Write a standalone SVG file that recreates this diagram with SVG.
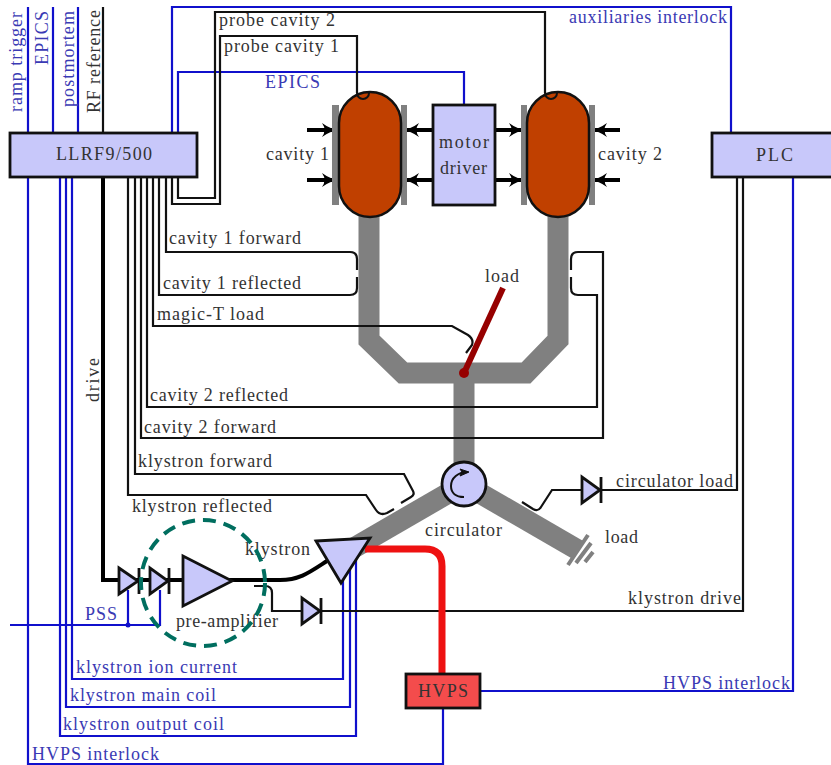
<svg xmlns="http://www.w3.org/2000/svg" width="831" height="765" viewBox="0 0 831 765">
<defs>
<marker id="head" viewBox="0 0 17 14" refX="16" refY="7" markerWidth="17" markerHeight="14" markerUnits="userSpaceOnUse" orient="auto"><path d="M0,0 Q8,6 17,7 Q8,8 0,14 Q5,7 0,0Z" fill="#000"/></marker>
</defs>
<style>
text{font-family:"Liberation Serif","Times New Roman",serif;font-size:18px;fill:#333}
.b{fill:#3a3ab4}
.bl{fill:none;stroke:#1010cc;stroke-width:2.2}
.k{fill:none;stroke:#111;stroke-width:2.2}
.box{fill:#c8c8fa;stroke:#111;stroke-width:2.8}
.wg{fill:none;stroke:#808080;stroke-width:21}
.arr{fill:none;stroke:#000;stroke-width:4;marker-end:url(#head)}
.cav{fill:#c04000;stroke:#111;stroke-width:2.5}
.plate{fill:#808080}
</style>
<rect width="831" height="765" fill="#fff"/>
<g id="waveguides">
<path class="wg" d="M369,215V340L403,373H526L558,340V215"/>
<path class="wg" d="M464,373V470"/>
<path class="wg" d="M464,484L345,553"/>
<path class="wg" d="M464,484L578,550"/>
<path d="M588,535L568,565M591,543L576,563M593,552L585,562" fill="none" stroke="#808080" stroke-width="4"/>
</g>
<g id="connectors">
<g class="conn-blue">
<path class="bl" d="M28,7V133M53,7V133M78,7V133"/>
<path class="bl" d="M172,133V7H731V133"/>
<path class="bl" d="M178,133V72H464V105"/>
<path class="bl" d="M28,177V764H443V708"/>
<path class="bl" d="M72,177V679H343V575"/>
<path class="bl" d="M66,177V707H350V565"/>
<path class="bl" d="M60,177V736H356V555"/>
<path class="bl" d="M481,691H793V177"/>
<path class="bl" d="M10,625H160V590M128,625V590"/>
<circle cx="128" cy="625" r="2.5" fill="#1010cc"/>
</g>
<g class="conn-black">
<path class="k" d="M103,7V133"/>
<path class="k" d="M178,177V198H215V12H545V93"/>
<path class="k" d="M172,177V204H220V36H357V93"/>
<path class="k" d="M166,177V252H350Q357,252 357,259V270"/>
<path class="k" d="M159,177V295H350Q357,295 357,288V277"/>
<path class="k" d="M153,177V326H452L468,335Q474,339 472,345L466,353"/>
<path class="k" d="M147,177V407H597V295H578Q571,295 571,288V277"/>
<path class="k" d="M141,177V438H603V252H578Q571,252 571,259V270"/>
<path class="k" d="M135,177V474H404L413,491Q415,495 411,497L401,503"/>
<path class="k" d="M128,177V495H366L376,510Q380,516 387,513L394,509"/>
<path class="k" d="M737,177V490H552L541,507Q538,512 533,509L522,502"/>
<path class="k" d="M743,177V611H272V593Q272,586 265,586H254"/>
<path d="M103,177V580H280C300,580 310,572 327,561" fill="none" stroke="#000" stroke-width="4"/>
</g>
<path d="M365,549H425Q442,549 442,566V674" fill="none" stroke="#ee1111" stroke-width="7"/>
<path d="M464,373L503,288" fill="none" stroke="#960000" stroke-width="6"/>
<circle cx="464" cy="373" r="5" fill="#960000"/>
<path class="arr" d="M307,130H338"/><path class="arr" d="M307,180H338"/>
<path class="arr" d="M620,130H591"/><path class="arr" d="M620,180H591"/>
<path class="arr" d="M433,130H403"/><path class="arr" d="M433,180H403"/>
<path class="arr" d="M495,130H525"/><path class="arr" d="M495,180H525"/>
</g>
<g id="llrf"><rect class="box" x="10" y="133" width="187" height="44"/><text x="56" y="160" textLength="96">LLRF9/500</text></g>
<g id="plc"><rect class="box" x="712" y="133" width="125" height="44"/><text x="756" y="161" textLength="37">PLC</text></g>
<g id="cavity1">
<rect class="plate" x="332" y="105" width="7" height="100"/><rect class="plate" x="401" y="105" width="6" height="100"/>
<rect class="cav" x="339" y="92" width="62" height="125" rx="31" ry="31"/>
<path d="M357,93A6,6 0 0 0 369,93" fill="none" stroke="#111" stroke-width="2"/>
<text x="266" y="160" textLength="63">cavity 1</text>
</g>
<g id="cavity2">
<rect class="plate" x="521" y="105" width="6" height="100"/><rect class="plate" x="589" y="105" width="6" height="100"/>
<rect class="cav" x="527" y="92" width="62" height="125" rx="31" ry="31"/>
<path d="M545,93A6,6 0 0 0 557,93" fill="none" stroke="#111" stroke-width="2"/>
<text x="598" y="160" textLength="64">cavity 2</text>
</g>
<g id="motor"><rect class="box" x="433" y="105" width="62" height="100"/><text x="439" y="148" textLength="50">motor</text><text x="440" y="174" textLength="47">driver</text></g>
<g id="circulator"><circle class="box" cx="464" cy="484" r="22"/>
<path d="M468,472C458,472 451,478 451,486C451,493 456,497 464,497" fill="none" stroke="#111" stroke-width="2"/><path d="M469,472L460,469L462,472L460,476Z" fill="#111" stroke="#111"/>
<text x="425" y="536" textLength="77">circulator</text></g>
<g id="d1"><path class="box" d="M119,568V594L138,581Z"/><path d="M139,568V594" stroke="#111" stroke-width="2.8"/></g>
<g id="d2"><path class="box" d="M150,568V594L168,581Z"/><path d="M169,568V594" stroke="#111" stroke-width="2.8"/></g>
<g id="preamp"><path class="box" d="M183,556V606L232,581Z"/><text x="176" y="627" textLength="102">pre-amplifier</text></g>
<g id="klystron"><path class="box" d="M316,541L370,538L341,583Z"/><text x="245" y="555" textLength="65">klystron</text></g>
<g id="d3"><path class="box" d="M302,598V624L320,611Z"/><path d="M321,598V624" stroke="#111" stroke-width="2.8"/></g>
<g id="d4"><path class="box" d="M582,477V503L600,490Z"/><path d="M601,477V503" stroke="#111" stroke-width="2.8"/></g>
<g id="hvps"><rect x="406" y="674" width="74" height="34" fill="#f44c4c" stroke="#111" stroke-width="2.8"/><text x="418" y="697" textLength="50">HVPS</text></g>
<g id="labels">
<text class="b" transform="translate(22,112) rotate(-90)" textLength="100">ramp trigger</text>
<text class="b" transform="translate(48,65) rotate(-90)" textLength="54">EPICS</text>
<text class="b" transform="translate(74,107) rotate(-90)" textLength="96">postmortem</text>
<text transform="translate(100,113) rotate(-90)" textLength="103">RF reference</text>
<text transform="translate(99,402) rotate(-90)" textLength="44">drive</text>
<text x="219" y="26" textLength="116">probe cavity 2</text>
<text x="224" y="52" textLength="115">probe cavity 1</text>
<text class="b" x="265" y="88" textLength="55">EPICS</text>
<text class="b" x="569" y="23" textLength="158">auxiliaries interlock</text>
<text x="169" y="244" textLength="132">cavity 1 forward</text>
<text x="163" y="289" textLength="138">cavity 1 reflected</text>
<text x="157" y="320" textLength="107">magic-T load</text>
<text x="485" y="282" textLength="34">load</text>
<text x="150" y="401" textLength="138">cavity 2 reflected</text>
<text x="144" y="433" textLength="132">cavity 2 forward</text>
<text x="138" y="467" textLength="134">klystron forward</text>
<text x="132" y="512" textLength="140">klystron reflected</text>
<text x="616" y="487" textLength="117">circulator load</text>
<text x="605" y="543" textLength="33">load</text>
<text x="628" y="604" textLength="113">klystron drive</text>
<text class="b" x="85" y="620" textLength="32">PSS</text>
<text class="b" x="76" y="673" textLength="161">klystron ion current</text>
<text class="b" x="70" y="701" textLength="146">klystron main coil</text>
<text class="b" x="63" y="730" textLength="161">klystron output coil</text>
<text class="b" x="32" y="760" textLength="127">HVPS interlock</text>
<text class="b" x="663" y="689" textLength="127">HVPS interlock</text>
</g>
<ellipse id="highlight" cx="203" cy="583" rx="62" ry="63" fill="none" stroke="#006e5f" stroke-width="4" stroke-dasharray="13 8"/>
</svg>
